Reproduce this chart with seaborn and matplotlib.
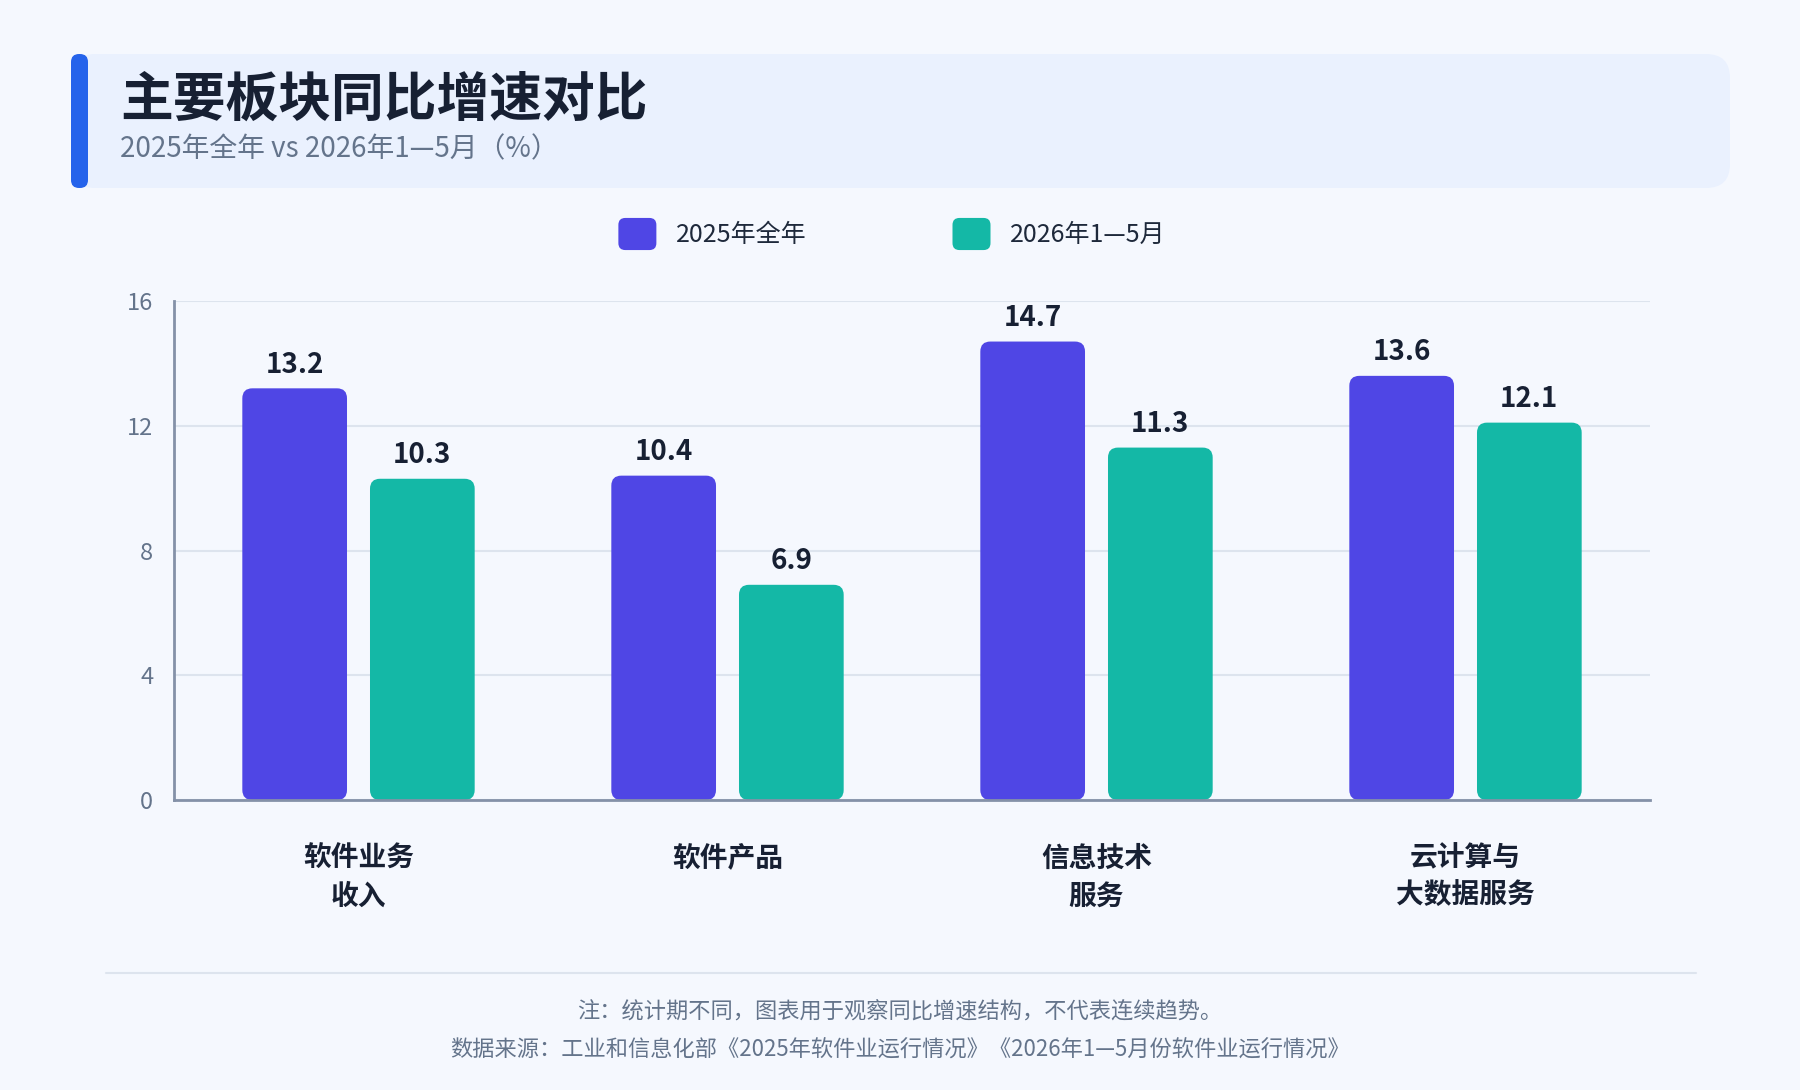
import numpy as np
import pandas as pd
import matplotlib
matplotlib.use("Agg")
import matplotlib.pyplot as plt
import seaborn as sns
from matplotlib.patches import FancyBboxPatch, Patch
from matplotlib.legend_handler import HandlerPatch
from matplotlib.lines import Line2D

# ---- data ----
categories = ["软件业务\n收入", "软件产品", "信息技术\n服务", "云计算与\n大数据服务"]
series = ["2025年全年", "2026年1—5月"]
growth_2025 = [13.2, 10.4, 14.7, 13.6]
growth_2026 = [10.3, 6.9, 11.3, 12.1]
y_ticks = [0, 4, 8, 12, 16]

colors = ["#4f46e5", "#14b8a6"]
bg = "#f5f8fe"
dark = "#172033"
muted = "#64748b"

df = pd.DataFrame({
    "板块": categories * 2,
    "增速": growth_2025 + growth_2026,
    "时期": [series[0]] * 4 + [series[1]] * 4,
})

sns.set_theme(style="white")
plt.rcParams['font.family'] = ['Noto Sans CJK SC', 'DejaVu Sans']

W, H = 1800, 1090
fig = plt.figure(figsize=(W / 100, H / 100), dpi=100, facecolor=bg)

# header card
fig.patches.append(FancyBboxPatch(
    (71 / W, 1 - 188 / H), (1730 - 71) / W, 134 / H,
    boxstyle="round,pad=0,rounding_size=%f" % (24 / W), mutation_aspect=W / H,
    transform=fig.transFigure, fc="#eaf1fe", ec="none", zorder=0))
fig.patches.append(FancyBboxPatch(
    (71 / W, 1 - 188 / H), 17 / W, 134 / H,
    boxstyle="round,pad=0,rounding_size=%f" % (8 / W), mutation_aspect=W / H,
    transform=fig.transFigure, fc="#2563eb", ec="none", zorder=1))
fig.text(120 / W, 1 - 100 / H, "主要板块同比增速对比", fontsize=38, fontweight="bold",
         color=dark, va="center", ha="left")
fig.text(120 / W, 1 - 149 / H, "2025年全年 vs 2026年1—5月（%）", fontsize=20,
         color=muted, va="center", ha="left")

# ---- chart ----
ax = fig.add_axes([174 / W, 1 - 800 / H, (1650 - 174) / W, (800 - 301) / H])
ax.set_facecolor(bg)
sns.barplot(data=df, x="板块", y="增速", hue="时期", palette=colors, width=0.692,
            gap=0.18, saturation=1, legend=False, ax=ax, zorder=3)

ax.set_xlim(-0.5, 3.5)
ax.set_ylim(0, 16)
ax.set_yticks(y_ticks)
ax.set_xlabel("")
ax.set_ylabel("")

for cont in ax.containers:
    ax.bar_label(cont, fmt="%.1f", padding=7, fontsize=20, fontweight="bold", color=dark)

# rounded bars
x0, y0 = ax.transData.transform((0, 0))
x1, y1 = ax.transData.transform((1, 1))
aspect = (x1 - x0) / (y1 - y0)
r = 10 / (x1 - x0)
for p in list(ax.patches):
    bx, by = p.get_x(), p.get_y()
    bw, bh = p.get_width(), p.get_height()
    fc = p.get_facecolor()
    p.set_visible(False)
    ax.add_patch(FancyBboxPatch((bx, by), bw, bh,
                                boxstyle="round,pad=0,rounding_size=%f" % r,
                                mutation_aspect=aspect, fc=fc, ec="none", zorder=3))

ax.yaxis.grid(True, color="#dde4ee", linewidth=1.5)
ax.set_axisbelow(True)
for s in ["top", "right"]:
    ax.spines[s].set_visible(False)
for s in ["left", "bottom"]:
    ax.spines[s].set_color("#8491a8")
    ax.spines[s].set_linewidth(2)
    ax.spines[s].set_zorder(4)
ax.tick_params(axis="y", length=0, pad=15, labelsize=17, labelcolor=muted)
ax.tick_params(axis="x", length=0, pad=32, labelsize=20, labelcolor=dark)
for t in ax.get_xticklabels():
    t.set_fontweight("bold")
    t.set_linespacing(1.45)

# legend with rounded swatches
class HandlerRound(HandlerPatch):
    def create_artists(self, legend, orig_handle, xdescent, ydescent, width, height,
                       fontsize, trans):
        p = FancyBboxPatch((-xdescent, -ydescent), width, height,
                           boxstyle="round,pad=0,rounding_size=5",
                           fc=orig_handle.get_facecolor(), ec="none", transform=trans)
        return [p]

handles = [Patch(color=c) for c in colors]
leg = fig.legend(handles, series, loc="center", bbox_to_anchor=(892 / W, 1 - 234 / H),
                 ncol=2, frameon=False, fontsize=18, handlelength=1.52, handleheight=1.6,
                 handletextpad=0.78, columnspacing=5.84, borderpad=0,
                 handler_map={Patch: HandlerRound()})
for t in leg.get_texts():
    t.set_color("#1e293b")

# footer
fig.add_artist(Line2D([106 / W, 1696 / W], [1 - 973 / H, 1 - 973 / H],
                      transform=fig.transFigure, color="#dde4ee", linewidth=1.5))
fig.text(0.5, 1 - 1012 / H, "注：统计期不同，图表用于观察同比增速结构，不代表连续趋势。",
         fontsize=16, color=muted, ha="center", va="center")
fig.text(0.5, 1 - 1050 / H,
         "数据来源：工业和信息化部《2025年软件业运行情况》《2026年1—5月份软件业运行情况》",
         fontsize=16, color=muted, ha="center", va="center")

fig.savefig("out.png", dpi=100, facecolor=bg)
